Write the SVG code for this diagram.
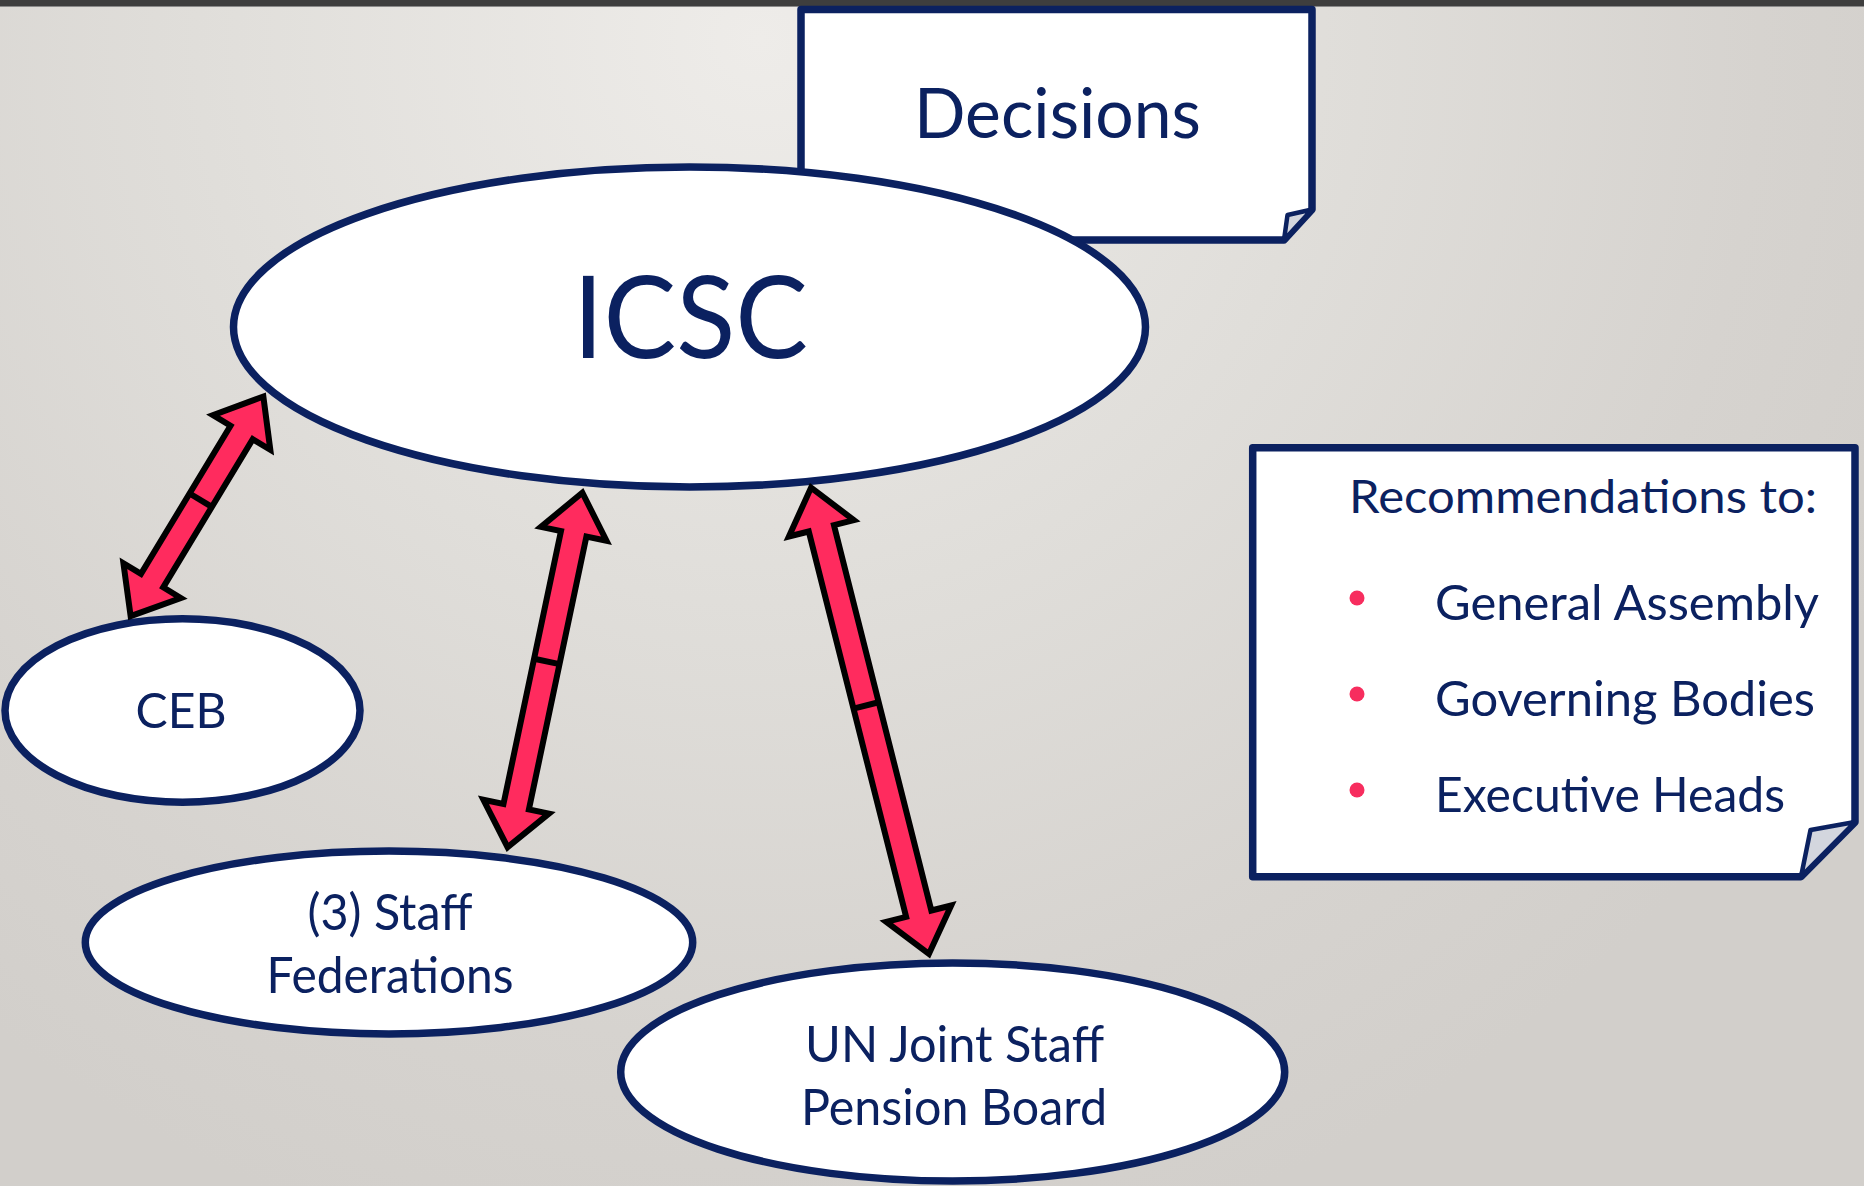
<svg xmlns="http://www.w3.org/2000/svg" width="1864" height="1186" viewBox="0 0 1864 1186">
<defs>
<radialGradient id="bg" gradientUnits="userSpaceOnUse" cx="760" cy="40" r="1250">
<stop offset="0" stop-color="#eeece9"/>
<stop offset="0.45" stop-color="#e0deda"/>
<stop offset="0.8" stop-color="#d6d3cf"/>
<stop offset="1" stop-color="#d2cfcb"/>
</radialGradient>
</defs>
<style>
.nv{fill:#ffffff;stroke:#0b2160;stroke-width:7.5;stroke-linejoin:round}
.fold{fill:#d3d6de;stroke:#0b2160;stroke-width:4.5;stroke-linejoin:round}
.t{font-family:Lato,"Open Sans","Liberation Sans",sans-serif;fill:#0b2160}
.arr{fill:#ff2b5e;stroke:#000000;stroke-width:6;stroke-linejoin:miter;stroke-miterlimit:6}
.mid{stroke:#000000;stroke-width:6}
.bul{fill:#f72d5e}
</style>
<rect x="0" y="0" width="1864" height="1186" fill="url(#bg)"/>
<rect x="0" y="0" width="1864" height="6" fill="#3e3e3e"/>
<rect x="0" y="6" width="1864" height="1" fill="#8a8a8a"/>

<g id="decisions">
<path class="nv" d="M801,9.5 L1312,9.5 L1312,209.5 L1284,240 L801,240 Z"/>
<path class="fold" d="M1284,240 L1287.5,215 L1312,209.5 Z"/>
<text class="t" x="1057.5" y="138" font-size="70" text-anchor="middle" textLength="287" lengthAdjust="spacingAndGlyphs">Decisions</text>
</g>

<g id="icsc">
<ellipse class="nv" cx="689.5" cy="327" rx="456" ry="160"/>
<text class="t" x="690.5" y="358" font-size="114" text-anchor="middle" textLength="235" lengthAdjust="spacingAndGlyphs">ICSC</text>
</g>

<g id="recommendations">
<path class="nv" d="M1252.7,447.7 L1855,447.7 L1855,822 L1801,876.7 L1252.7,876.7 Z"/>
<path class="fold" d="M1801,876.7 L1810.5,830 L1855,822 Z"/>
<text class="t" x="1349" y="513" font-size="46" textLength="468" lengthAdjust="spacingAndGlyphs">Recommendations to:</text>
<circle class="bul" cx="1357" cy="598" r="7.5"/>
<circle class="bul" cx="1357" cy="694" r="7.5"/>
<circle class="bul" cx="1357" cy="790" r="7.5"/>
<text class="t" x="1435" y="620" font-size="49" textLength="384" lengthAdjust="spacingAndGlyphs">General Assembly</text>
<text class="t" x="1435" y="716" font-size="49" textLength="380" lengthAdjust="spacingAndGlyphs">Governing Bodies</text>
<text class="t" x="1435" y="812" font-size="49" textLength="350" lengthAdjust="spacingAndGlyphs">Executive Heads</text>
</g>

<g id="ceb">
<ellipse class="nv" cx="182.5" cy="710.5" rx="177.5" ry="91.7"/>
<text class="t" x="181" y="728" font-size="49" text-anchor="middle" textLength="91" lengthAdjust="spacingAndGlyphs">CEB</text>
</g>

<g id="staff-federations">
<ellipse class="nv" cx="389" cy="942.5" rx="303.7" ry="91.4"/>
<text class="t" x="390" y="930" font-size="50" text-anchor="middle" textLength="165" lengthAdjust="spacingAndGlyphs">(3) Staff</text>
<text class="t" x="390" y="993" font-size="50" text-anchor="middle" textLength="247" lengthAdjust="spacingAndGlyphs">Federations</text>
</g>

<g id="pension-board">
<ellipse class="nv" cx="952.7" cy="1072" rx="332" ry="109"/>
<text class="t" x="954.6" y="1061.7" font-size="50" text-anchor="middle" textLength="299" lengthAdjust="spacingAndGlyphs">UN Joint Staff</text>
<text class="t" x="954" y="1125" font-size="50" text-anchor="middle" textLength="306" lengthAdjust="spacingAndGlyphs">Pension Board</text>
</g>

<g id="connectors">
<g transform="translate(128.3,620) rotate(-58.85)">
<path class="arr" d="M4.5,0 L46,-33.5 L46,-13 L219.1,-13 L219.1,-33.5 L261.1,0 L219.1,33.5 L219.1,13 L46,13 L46,33.5 Z"/>
<line class="mid" x1="140" y1="-13" x2="140" y2="13"/>
</g>
<g transform="translate(506.7,851.7) rotate(-78.1)">
<path class="arr" d="M4.5,0 L46,-33.5 L46,-13 L324.9,-13 L324.9,-33.5 L366.9,0 L324.9,33.5 L324.9,13 L46,13 L46,33.5 Z"/>
<line class="mid" x1="194.5" y1="-13" x2="194.5" y2="13"/>
</g>
<g transform="translate(930,958.3) rotate(-104.18)">
<path class="arr" d="M4.5,0 L46,-33.5 L46,-13 L443.5,-13 L443.5,-33.5 L485.5,0 L443.5,33.5 L443.5,13 L46,13 L46,33.5 Z"/>
<line class="mid" x1="260.8" y1="-13" x2="260.8" y2="13"/>
</g>
</g>
</svg>
